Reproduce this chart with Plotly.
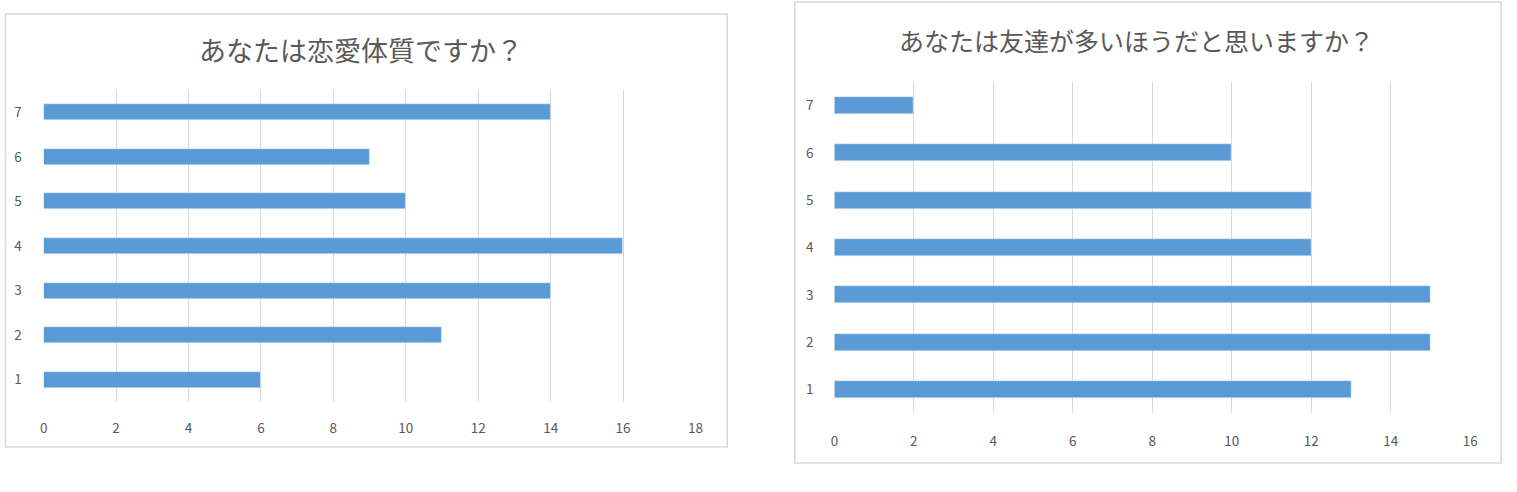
import plotly.graph_objects as go

W, H = 1517, 492

categories = ["1", "2", "3", "4", "5", "6", "7"]
left_values = [6, 11, 14, 16, 10, 9, 14]
right_values = [13, 15, 15, 12, 12, 10, 2]
left_title = "あなたは恋愛体質ですか？"
right_title = "あなたは友達が多いほうだと思いますか？"
left_ticks = [0, 2, 4, 6, 8, 10, 12, 14, 16, 18]
right_ticks = [0, 2, 4, 6, 8, 10, 12, 14, 16]

BAR = "#5B9BD5"
GRID = "#D9D9D9"
TXT = "#595959"
FONT = "Noto Sans CJK JP"

def px(x):
    return x / W

def py(y):
    return 1 - y / H

fig = go.Figure()
fig.add_trace(go.Bar(y=categories, x=left_values, orientation="h", marker_color=BAR,
                     width=0.36, xaxis="x", yaxis="y", showlegend=False))
fig.add_trace(go.Bar(y=categories, x=right_values, orientation="h", marker_color=BAR,
                     width=0.36, xaxis="x2", yaxis="y2", showlegend=False))

xcommon = dict(showgrid=True, gridcolor=GRID, gridwidth=1, zeroline=False, showline=False,
               ticks="", tickfont=dict(family=FONT, size=13.5, color=TXT), fixedrange=True)
ycommon = dict(type="category", categoryorder="array", categoryarray=categories,
               range=[-0.5, 6.5], showgrid=False, zeroline=False, showline=False, ticks="",
               tickfont=dict(family=FONT, size=13.5, color=TXT))

fig.update_layout(
    width=W, height=H, margin=dict(l=0, r=0, t=0, b=0),
    paper_bgcolor="white", plot_bgcolor="white", bargap=0,
    font=dict(family=FONT, color=TXT),
    xaxis=dict(domain=[px(40), px(697)], range=[0, 18], tickvals=left_ticks,
               anchor="y", ticklabelstandoff=16, **xcommon),
    yaxis=dict(domain=[py(402), py(90)], anchor="x", ticklabelstandoff=21, **ycommon),
    xaxis2=dict(domain=[px(837), px(1478)], range=[0, 16], tickvals=right_ticks,
                anchor="y2", ticklabelstandoff=18, **xcommon),
    yaxis2=dict(domain=[py(413), py(82)], anchor="x2", ticklabelstandoff=20, **ycommon),
    shapes=[
        dict(type="rect", xref="paper", yref="paper", x0=px(1.5), x1=px(729), y0=py(447), y1=py(14),
             line=dict(color=GRID, width=1.5), fillcolor="rgba(0,0,0,0)", layer="below"),
        dict(type="rect", xref="paper", yref="paper", x0=px(797), x1=px(1509), y0=py(463), y1=py(2),
             line=dict(color=GRID, width=1.5), fillcolor="rgba(0,0,0,0)", layer="below"),
    ],
    annotations=[
        dict(text=left_title, xref="paper", yref="paper", x=px(360), y=py(50), xanchor="center",
             yanchor="middle", showarrow=False, font=dict(family=FONT, size=27, color=TXT)),
        dict(text=right_title, xref="paper", yref="paper", x=px(1142), y=py(40), xanchor="center",
             yanchor="middle", showarrow=False, font=dict(family=FONT, size=25, color=TXT)),
    ],
)

fig.write_html("out.html")
